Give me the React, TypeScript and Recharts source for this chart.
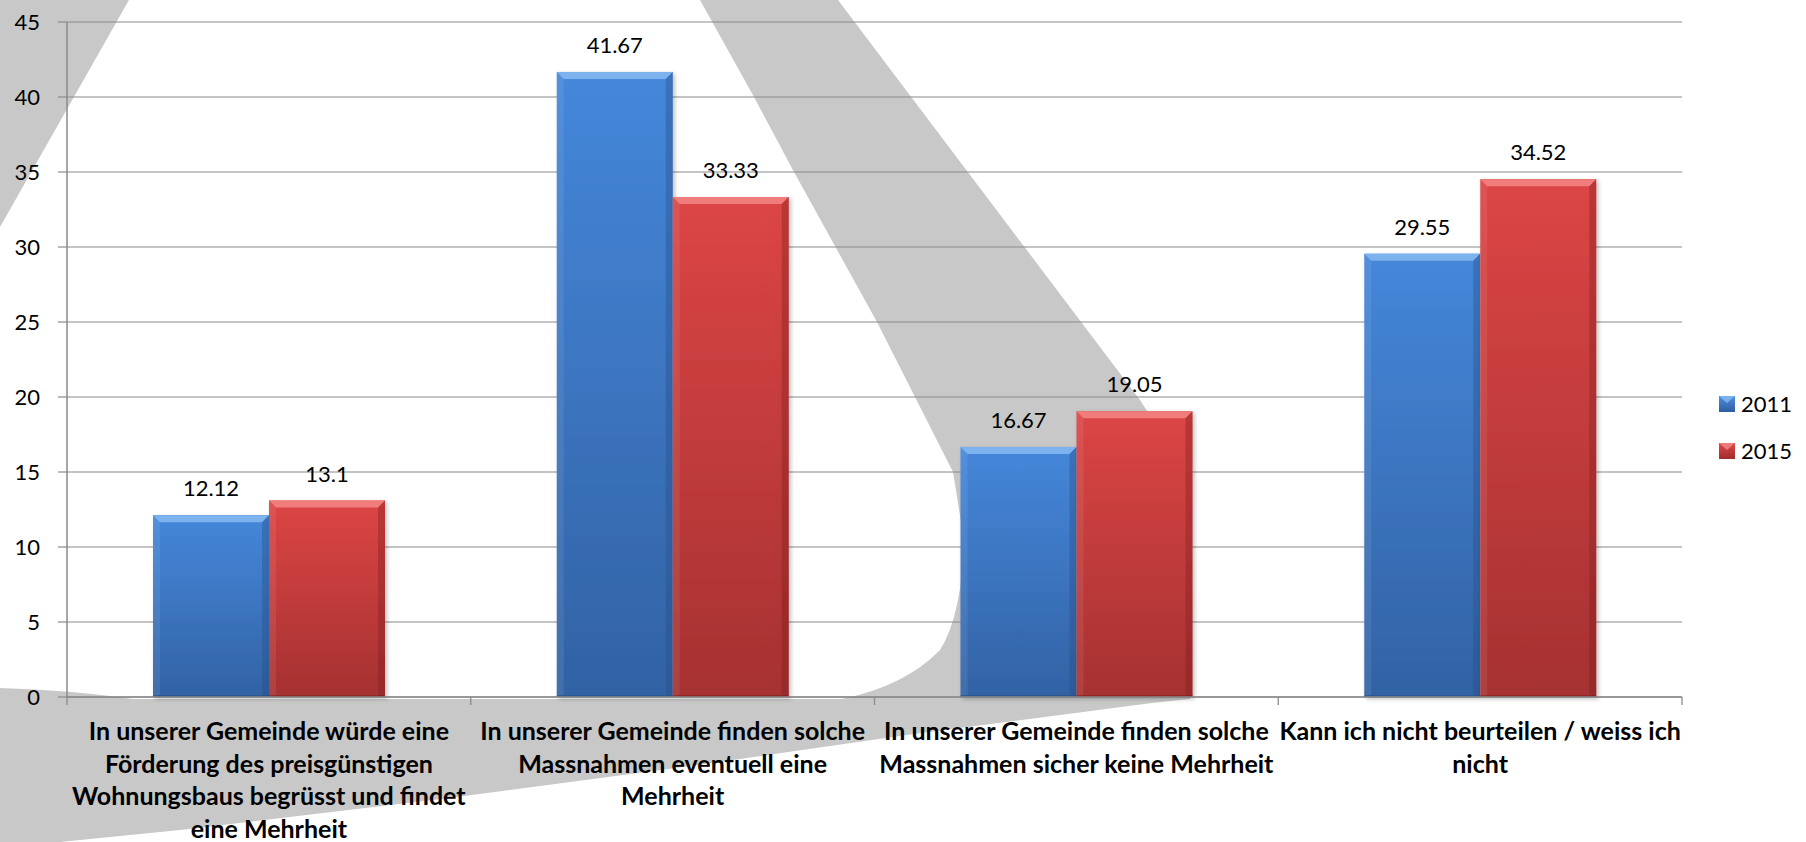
import React from 'react';
import { BarChart, Bar, XAxis, YAxis, CartesianGrid, LabelList, Legend } from 'recharts';

const categories = [
  'In unserer Gemeinde würde eine Förderung des preisgünstigen Wohnungsbaus begrüsst und findet eine Mehrheit',
  'In unserer Gemeinde finden solche Massnahmen eventuell eine Mehrheit',
  'In unserer Gemeinde finden solche Massnahmen sicher keine Mehrheit',
  'Kann ich nicht beurteilen / weiss ich nicht',
];
const tickLines = [
  ['In unserer Gemeinde würde eine', 'Förderung des preisgünstigen', 'Wohnungsbaus begrüsst und findet', 'eine Mehrheit'],
  ['In unserer Gemeinde finden solche', 'Massnahmen eventuell eine', 'Mehrheit'],
  ['In unserer Gemeinde finden solche', 'Massnahmen sicher keine Mehrheit'],
  ['Kann ich nicht beurteilen / weiss ich', 'nicht'],
];
const values2011 = [12.12, 41.67, 16.67, 29.55];
const values2015 = [13.1, 33.33, 19.05, 34.52];
const yTicks = [0, 5, 10, 15, 20, 25, 30, 35, 40, 45];

const data = categories.map((name, i) => ({ name, y2011: values2011[i], y2015: values2015[i] }));

const W = 1806;
const H = 842;
const PLOT_LEFT = 67;
const PLOT_RIGHT = 1682;
const BAND = (PLOT_RIGHT - PLOT_LEFT) / categories.length;
const FONT = 'Lato, "Open Sans", sans-serif';
const AXIS = '#8a8a8a';
const WATERMARK = '#c8c8c8';

const makeBarShape = (grad: string, light: string, dark: string) => (props: any) => {
  const { x, y, width, height } = props;
  if (!height || height <= 0) return <g />;
  const b = 7;
  return (
    <g filter="url(#barShadow)">
      <rect x={x} y={y} width={width} height={height} fill={`url(#${grad})`} />
      <polygon points={`${x},${y} ${x + width},${y} ${x + width - b},${y + b} ${x + b},${y + b}`} fill={light} />
      <polygon points={`${x},${y} ${x + b},${y + b} ${x + b},${y + height - 2} ${x},${y + height}`} fill="#ffffff" opacity={0.08} />
      <polygon points={`${x + width},${y} ${x + width - b},${y + b} ${x + width - b},${y + height - 2} ${x + width},${y + height}`} fill={dark} opacity={0.35} />
      <rect x={x} y={y + height - 2} width={width} height={2} fill={dark} opacity={0.5} />
    </g>
  );
};

const BlueBar = makeBarShape('gBlue', '#7cb2ee', '#244b80');
const RedBar = makeBarShape('gRed', '#f07b7b', '#7a1e1e');

const CategoryTick = (props: any) => {
  const { x, y, payload } = props;
  const idx = categories.indexOf(payload.value);
  const lines = tickLines[idx] || [];
  return (
    <g>
      <line x1={x - BAND / 2} y1={y} x2={x - BAND / 2} y2={y + 8} stroke={AXIS} strokeWidth={1.3} />
      {idx === categories.length - 1 && (
        <line x1={x + BAND / 2} y1={y} x2={x + BAND / 2} y2={y + 8} stroke={AXIS} strokeWidth={1.3} />
      )}
      <text x={x} y={y} textAnchor="middle" fontFamily={FONT} fontWeight={700} fontSize={25} fill="#000">
        {lines.map((l, i) => (
          <tspan key={i} x={x} dy={i === 0 ? 43 : 32.5}>{l}</tspan>
        ))}
      </text>
    </g>
  );
};

const legendItems = [
  { label: '2011', top: '#4d8fe0', bottom: '#2f5d9e', light: '#86bbf3' },
  { label: '2015', top: '#e04848', bottom: '#a02c2c', light: '#f48888' },
];

const LegendContent = () => (
  <div style={{ fontFamily: FONT }}>
    {legendItems.map((it) => (
      <div key={it.label} style={{ display: 'flex', alignItems: 'center', height: 47 }}>
        <svg width={16} height={16} style={{ marginRight: 6 }}>
          <defs>
            <linearGradient id={`lg${it.label}`} x1="0" y1="0" x2="0" y2="1">
              <stop offset="0%" stopColor={it.top} />
              <stop offset="100%" stopColor={it.bottom} />
            </linearGradient>
          </defs>
          <rect x={0} y={0} width={16} height={16} fill={`url(#lg${it.label})`} />
          <polygon points="0,0 16,0 8,7" fill={it.light} opacity={0.8} />
        </svg>
        <span style={{ fontSize: 22, lineHeight: 1, color: '#000' }}>{it.label}</span>
      </div>
    ))}
  </div>
);

// grey logo shapes behind the plot
const Watermark = () => (
  <svg width={W} height={H} style={{ position: 'absolute', left: 0, top: 0, display: 'block' }}>
    <rect x={0} y={0} width={W} height={H} fill="#ffffff" />
    <path d="M 0,0 L 129,0 L 0,227 Z" fill={WATERMARK} />
    <path
      d="M 700,0 L 838,0 L 1140,400 L 1185,470 L 1190,699 L 1152,703 L 921,733 L 691,766 L 449,798 L 190,829 L 60,842 L 0,842 L 0,688 Q 70,690 133,699 L 842,699 Q 905,686 940,650 Q 962,615 964,540 L 953,472 L 877,322 L 794,172 L 754,97 Z"
      fill={WATERMARK}
    />
  </svg>
);

export default function App() {
  return (
    <div style={{ position: 'absolute', left: 0, top: 0, width: W, height: H, overflow: 'hidden' }}>
      <Watermark />
      <div style={{ position: 'absolute', left: 0, top: 0 }}>
        <BarChart
          width={W}
          height={H}
          data={data}
          margin={{ top: 22, right: W - PLOT_RIGHT, bottom: 0, left: 0 }}
          barGap={0}
        >
          <defs>
            <linearGradient id="gBlue" x1="0" y1="0" x2="0" y2="1">
              <stop offset="0%" stopColor="#4587da" />
              <stop offset="100%" stopColor="#3262a4" />
            </linearGradient>
            <linearGradient id="gRed" x1="0" y1="0" x2="0" y2="1">
              <stop offset="0%" stopColor="#dc4545" />
              <stop offset="100%" stopColor="#a63131" />
            </linearGradient>
            <filter id="barShadow" x="-10%" y="-5%" width="125%" height="115%">
              <feDropShadow dx={2} dy={2} stdDeviation={2} floodColor="#000" floodOpacity={0.25} />
            </filter>
          </defs>
          <CartesianGrid vertical={false} stroke={AXIS} strokeWidth={1.2} />
          <XAxis
            dataKey="name"
            height={145}
            interval={0}
            tickSize={0}
            tickMargin={0}
            tickLine={false}
            axisLine={{ stroke: AXIS, strokeWidth: 1.5 }}
            tick={<CategoryTick />}
          />
          <YAxis
            width={PLOT_LEFT}
            domain={[0, 45]}
            ticks={yTicks}
            interval={0}
            tickSize={9}
            tickMargin={18}
            axisLine={{ stroke: AXIS, strokeWidth: 1.5 }}
            tickLine={{ stroke: AXIS, strokeWidth: 1.2 }}
            tick={{ fill: '#000', fontSize: 22, fontFamily: FONT }}
          />
          <Legend
            layout="vertical"
            align="center"
            verticalAlign="middle"
            wrapperStyle={{ left: 1719, top: 380, width: 80 }}
            content={<LegendContent />}
          />
          <Bar dataKey="y2011" name="2011" barSize={116} fill="#3f7fd0" shape={BlueBar} isAnimationActive={false}>
            <LabelList dataKey="y2011" position="top" offset={19} fill="#000" fontSize={22} fontFamily={FONT} />
          </Bar>
          <Bar dataKey="y2015" name="2015" barSize={116} fill="#d04040" shape={RedBar} isAnimationActive={false}>
            <LabelList dataKey="y2015" position="top" offset={19} fill="#000" fontSize={22} fontFamily={FONT} />
          </Bar>
        </BarChart>
      </div>
    </div>
  );
}
